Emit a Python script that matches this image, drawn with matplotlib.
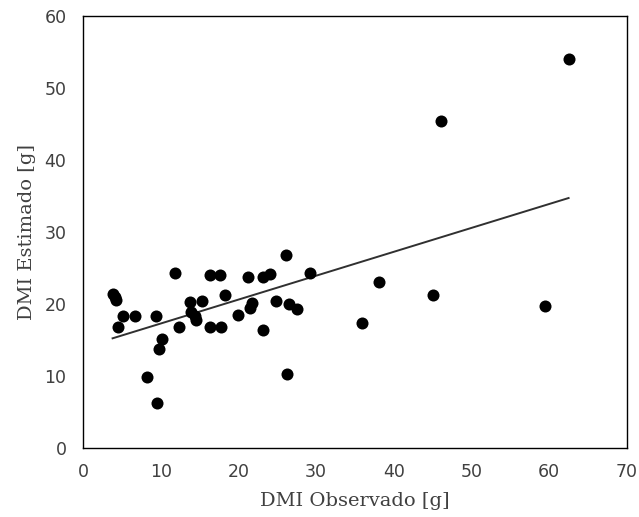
import numpy as np
import matplotlib
matplotlib.use("Agg")
import matplotlib.pyplot as plt

observed = [3.8, 4.1, 4.2, 4.5, 5.1, 6.7, 9.4, 11.8, 12.4, 10.1, 9.8, 8.2, 9.5,
            13.8, 15.3, 13.9, 14.6, 14.4, 16.3, 17.6, 18.3, 16.3, 17.8, 21.2,
            23.1, 24.1, 20.0, 21.7, 21.5, 23.1, 24.8, 26.1, 26.5, 27.6, 29.2,
            26.2, 62.5, 46.1, 38.1, 45.1, 59.4, 35.9]
estimated = [21.4, 21.0, 20.6, 16.8, 18.4, 18.4, 18.4, 24.3, 16.8, 15.2, 13.8, 9.8, 6.3,
             20.3, 20.4, 18.9, 17.8, 18.4, 24.0, 24.0, 21.3, 16.8, 16.8, 23.8,
             23.8, 24.1, 18.5, 20.2, 19.4, 16.4, 20.4, 26.8, 20.0, 19.3, 24.3,
             10.3, 54.1, 45.4, 23.0, 21.3, 19.7, 17.3]

# trendline parameters
trend_slope = 0.332
trend_intercept = 13.97

x_ticks = [0, 10, 20, 30, 40, 50, 60, 70]
y_ticks = [0, 10, 20, 30, 40, 50, 60]

fig = plt.figure(figsize=(6.39, 5.17), dpi=100)
ax = fig.add_axes([0.130, 0.1335, 0.851, 0.8355])

ax.scatter(observed, estimated, s=75, color="black", zorder=3, linewidths=0)
xl = np.array([min(observed), max(observed)])
ax.plot(xl, trend_slope * xl + trend_intercept, color="#303030", lw=1.4, zorder=2)

ax.set_xlim(0, 70)
ax.set_ylim(0, 60)
ax.set_xticks(x_ticks)
ax.set_yticks(y_ticks)
ax.tick_params(length=0, labelsize=12.5, labelcolor="#404040")
ax.tick_params(axis="x", pad=11)
ax.tick_params(axis="y", pad=12)
for s in ax.spines.values():
    s.set_linewidth(1.0)
    s.set_color("black")

ax.set_xlabel("DMI Observado [g]", family="DejaVu Serif", fontsize=14, color="#404040", labelpad=8)
ax.set_ylabel("DMI Estimado [g]", family="DejaVu Serif", fontsize=14, color="#404040", labelpad=6)

fig.savefig("out.png", dpi=100)
